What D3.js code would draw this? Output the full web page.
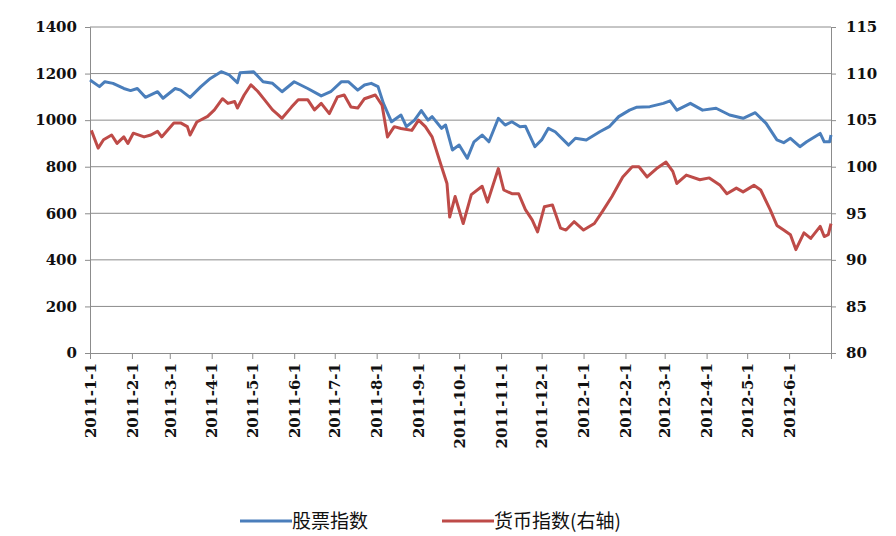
<!DOCTYPE html>
<html><head><meta charset="utf-8">
<script src="https://cdn.jsdelivr.net/npm/d3@7"></script>
<style>body{margin:0;background:#fff}text{font-family:"DejaVu Serif",serif}</style>
</head><body><svg id="chart"></svg>
<script>
// days since 2011-1-1
var stockDays = [0,7,11,17,25,30,35,41,50,54,63,67,74,82,89,97,103,109,111,121,128,135,142,151,161,171,178,186,191,198,203,208,213,217,223,230,234,240,245,250,253,260,263,268,273,279,284,290,295,302,307,312,318,322,329,334,339,344,354,359,367,377,384,391,399,404,414,424,429,434,444,453,463,473,483,492,500,508,513,518,525,530,540,543,547,548];
var stockVals = [1172,1144,1165,1158,1136,1127,1136,1098,1122,1094,1136,1129,1098,1144,1179,1208,1194,1161,1204,1208,1165,1158,1122,1165,1136,1104,1122,1165,1165,1129,1151,1158,1144,1072,993,1022,972,1000,1041,1000,1015,965,979,872,893,836,907,936,907,1008,979,993,972,974,886,915,965,950,893,922,915,950,972,1015,1043,1055,1058,1072,1083,1043,1072,1043,1051,1022,1008,1032,986,915,903,922,886,907,943,907,907,936];
var fxDays = [1,6,10,16,20,25,28,32,40,45,50,53,62,67,72,74,79,87,92,98,102,107,109,114,119,124,129,135,139,142,149,154,161,166,171,177,183,188,193,198,203,211,216,220,225,230,238,243,248,253,260,264,266,270,276,282,290,294,302,306,312,317,322,327,331,336,342,348,352,358,365,373,379,386,394,401,406,412,419,426,431,434,441,451,458,466,471,478,483,491,496,503,508,513,518,522,528,533,540,543,546,548];
var fxVals = [103.9,102.0,102.9,103.4,102.5,103.2,102.5,103.6,103.2,103.4,103.8,103.2,104.7,104.7,104.3,103.4,104.8,105.4,106.1,107.3,106.8,107.0,106.3,107.7,108.8,108.1,107.2,106.1,105.6,105.2,106.4,107.2,107.2,106.1,106.8,105.7,107.5,107.7,106.4,106.3,107.3,107.7,106.6,103.2,104.3,104.1,103.9,105.0,104.3,103.2,100.0,98.2,94.6,96.8,93.9,97.0,97.9,96.2,99.8,97.5,97.1,97.1,95.4,94.3,93.0,95.7,95.9,93.4,93.2,94.1,93.2,93.9,95.2,96.8,98.9,100.0,100.0,98.9,99.8,100.5,99.5,98.2,99.1,98.6,98.8,98.0,97.1,97.7,97.3,98.0,97.5,95.4,93.7,93.2,92.7,91.1,92.9,92.3,93.6,92.5,92.7,93.9];
var leftTicks = [0,200,400,600,800,1000,1200,1400];
var rightTicks = [80,85,90,95,100,105,110,115];
var seriesNames = ["股票指数", "货币指数(右轴)"];
var colors = ["#4a7ebb", "#be4b48"];

var W = 896, H = 536,
    margin = {top: 27, right: 65, bottom: 183, left: 90},
    width = W - margin.left - margin.right,
    height = H - margin.top - margin.bottom;

var svg = d3.select("#chart").attr("width", W).attr("height", H);
var g = svg.append("g").attr("transform", "translate(" + margin.left + "," + margin.top + ")");

var start = new Date(2011, 0, 1);
var toDate = function(d){ return d3.timeDay.offset(start, d); };

var x = d3.scaleTime().domain([start, toDate(548)]).range([0, width]);
var yL = d3.scaleLinear().domain([0, 1400]).range([height, 0]);
var yR = d3.scaleLinear().domain([80, 115]).range([height, 0]);

// grid
g.selectAll(".grid").data(leftTicks.slice(1)).enter().append("line")
	.attr("x1", 0).attr("x2", width)
	.attr("y1", function(d){ return yL(d); }).attr("y2", function(d){ return yL(d); })
	.attr("stroke", "#8c8c8c").attr("stroke-width", 1);

var months = d3.timeMonth.range(start, toDate(530));

var axL = g.append("g").call(d3.axisLeft(yL).tickValues(leftTicks).tickFormat(d3.format("d")).tickSize(5).tickPadding(8));
var axR = g.append("g").attr("transform", "translate(" + width + ",0)")
	.call(d3.axisRight(yR).tickValues(rightTicks).tickSize(5).tickPadding(10));
var axB = g.append("g").attr("transform", "translate(0," + height + ")")
	.call(d3.axisBottom(x).tickValues(months).tickSize(6)
		.tickFormat(function(d){ return d.getFullYear() + "-" + (d.getMonth() + 1) + "-1"; }));

[axL, axR, axB].forEach(function(a){
	a.selectAll("path,line").attr("stroke", "#8c8c8c");
	a.selectAll("text").attr("fill", "#111").style("font-size", "15px").style("font-weight", "bold");
});
axB.selectAll("text")
	.attr("transform", "rotate(-90)")
	.attr("text-anchor", "end")
	.attr("x", -10).attr("y", 0).attr("dy", "0.35em");

var lineL = d3.line().x(function(d){ return x(toDate(d[0])); }).y(function(d){ return yL(d[1]); });
var lineR = d3.line().x(function(d){ return x(toDate(d[0])); }).y(function(d){ return yR(d[1]); });

g.append("path").datum(d3.zip(stockDays, stockVals))
	.attr("d", lineL).attr("fill", "none").attr("stroke", colors[0]).attr("stroke-width", 3).attr("stroke-linejoin", "round");
g.append("path").datum(d3.zip(fxDays, fxVals))
	.attr("d", lineR).attr("fill", "none").attr("stroke", colors[1]).attr("stroke-width", 3).attr("stroke-linejoin", "round");

// legend
var legend = svg.append("g").attr("transform", "translate(240,521)");
var lx = [0, 202];
seriesNames.forEach(function(n, i){
	legend.append("line").attr("x1", lx[i]).attr("x2", lx[i] + 52).attr("y1", 0).attr("y2", 0)
		.attr("stroke", colors[i]).attr("stroke-width", 3);
	legend.append("text").attr("x", lx[i] + 52).attr("y", 0).attr("dy", "0.35em")
		.style("font-size", "19px").style("font-family", "'Noto Sans CJK SC',sans-serif").attr("fill", "#111").text(n);
});
</script></body></html>
